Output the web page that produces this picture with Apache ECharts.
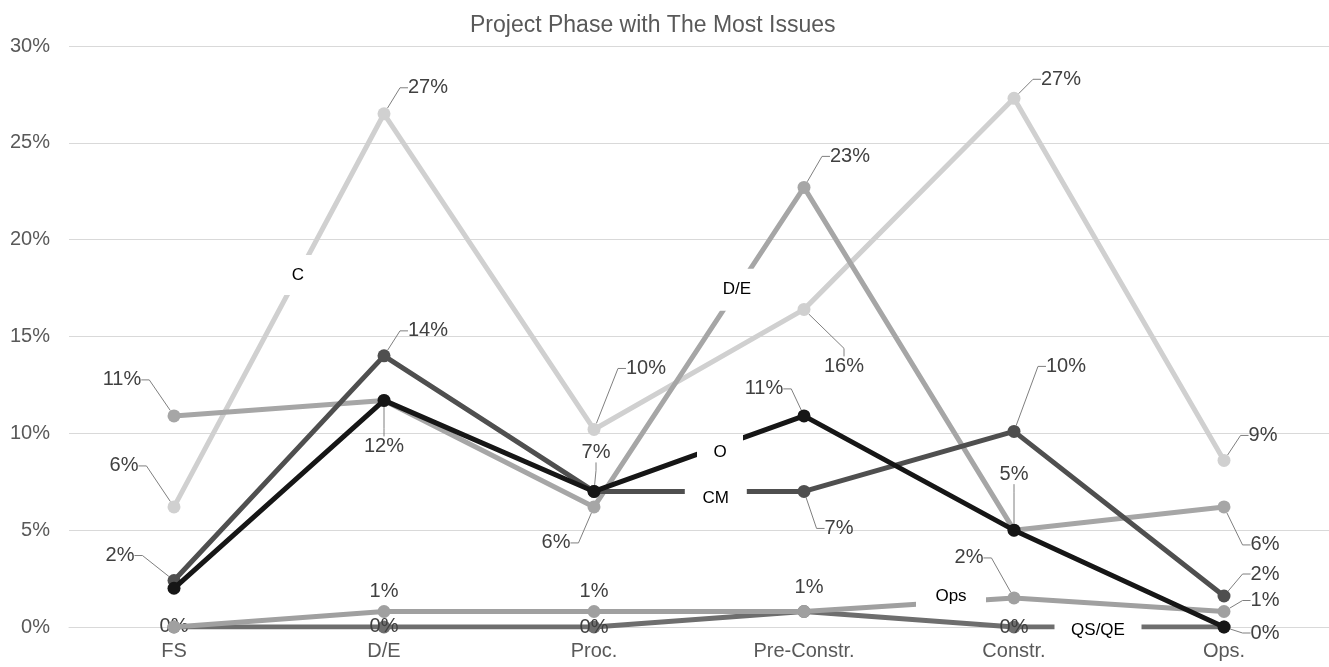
<!DOCTYPE html>
<html>
<head>
<meta charset="utf-8">
<script src="https://cdn.jsdelivr.net/npm/echarts@6/dist/echarts.min.js"></script>
<style>
  html, body { margin: 0; padding: 0; background: #fff; }
  #chart { width: 1329px; height: 667px; }
</style>
</head>
<body>
<div id="chart"></div>
<script>
// Project phases (x categories)
const phases = ['FS', 'D/E', 'Proc.', 'Pre-Constr.', 'Constr.', 'Ops.'];

// Percent axis
const yMin = 0;
const yMax = 30;
const yStep = 5;

// Share of issues per phase (%), one array per discipline
const valuesC    = [6.2, 26.5, 10.2, 16.4, 27.3, 8.6];
const valuesDE   = [10.9, 11.7, 6.2, 22.7, 5.0, 6.2];
const valuesQSQE = [0, 0, 0, 0.8, 0, 0];
const valuesOps  = [0, 0.8, 0.8, 0.8, 1.5, 0.8];
const valuesCM   = [2.4, 14.0, 7.0, 7.0, 10.1, 1.6];
const valuesO    = [2.0, 11.7, 7.0, 10.9, 5.0, 0];

const FONT = '"Liberation Sans", Arial, Helvetica, sans-serif';

// Value-label placement: [dx, dy, leaderLine] per point, null = no label
const labelPlacement = {
  'C':     [[-50, -41, 1], [44, -26, 1], [52, -61, 1], [40, 57, 1], [47, -19, 1], [39, -25, 1]],
  'D/E':   [[-52, -36, 1], [0, 46, 1], [-38, 36, 1], [46, -31, 1], null, [41, 38, 1]],
  'QS/QE': [[0, -1, 0], [0, -1, 0], [0, 0, 0], null, [0, 0, 0], null],
  'Ops':   [null, [0, -20, 0], [0, -20, 0], [5, -24, 0], [-45, -40, 1], [41, -11, 1]],
  'CM':    [[-54, -25, 1], [44, -25, 1], null, [35, 37, 1], [52, -65, 1], [41, -22, 1]],
  'O':     [null, null, [2, -39, 1], [-40, -27, 1], [0, -56, 1], [41, 6, 1]]
};

// Inline series-name tags: segment index, position along segment, box size, text shift
const nameTags = {
  'C':     { seg: 0, t: 0.59, w: 30, h: 40, dy: 0 },
  'D/E':   { seg: 2, t: 0.68, w: 40, h: 42, dy: 0 },
  'O':     { seg: 2, t: 0.60, w: 46, h: 24, dy: 6 },
  'CM':    { seg: 2, t: 0.58, w: 62, h: 22, dy: 7 },
  'Ops':   { seg: 3, t: 0.70, w: 70, h: 22, dy: -6 },
  'QS/QE': { seg: 4, t: 0.40, w: 87, h: 22, dy: 3 }
};

const seriesDefs = [
  { name: 'C',     values: valuesC,    color: '#d0d0d0' },
  { name: 'D/E',   values: valuesDE,   color: '#a6a6a6' },
  { name: 'QS/QE', values: valuesQSQE, color: '#6e6e6e' },
  { name: 'Ops',   values: valuesOps,  color: '#a0a0a0' },
  { name: 'CM',    values: valuesCM,   color: '#4f4f4f' },
  { name: 'O',     values: valuesO,    color: '#161616' }
];

function pctLabel(p) {
  return Math.round(p.value) + '%';
}

function buildLine(def, idx) {
  const place = labelPlacement[def.name];
  return {
    type: 'line',
    name: def.name,
    xAxisIndex: 0,
    yAxisIndex: 0,
    z: 2 + idx * 0.1,
    data: def.values.map(function (v, i) {
      const L = place[i];
      return {
        value: v,
        label: { show: !!L },
        labelLine: { show: !!(L && L[2]) }
      };
    }),
    symbol: 'circle',
    symbolSize: 13,
    showSymbol: true,
    lineStyle: { color: def.color, width: 5 },
    itemStyle: { color: def.color, opacity: 1 },
    label: {
      position: 'inside',
      formatter: pctLabel,
      fontSize: 20,
      fontFamily: FONT,
      color: '#404040',
      textBorderWidth: 0
    },
    labelLine: {
      show: true,
      length2: 8,
      lineStyle: { color: '#7f7f7f', width: 1 }
    },
    labelLayout: function (p) {
      const L = place[p.dataIndex];
      return L ? { dx: L[0], dy: L[1] } : {};
    },
    emphasis: { disabled: true },
    silent: true
  };
}

// Name tag sits on the series line, located from the series' own values
function buildTags() {
  return {
    type: 'scatter',
    xAxisIndex: 1,
    yAxisIndex: 0,
    z: 10,
    silent: true,
    symbol: 'rect',
    data: seriesDefs.map(function (def) {
      const tg = nameTags[def.name];
      const a = def.values[tg.seg];
      const b = def.values[tg.seg + 1];
      return {
        value: [tg.seg + tg.t, a + (b - a) * tg.t],
        name: def.name,
        symbolSize: [tg.w, tg.h],
        label: { offset: [0, tg.dy] }
      };
    }),
    itemStyle: { color: '#ffffff', opacity: 1 },
    label: {
      show: true,
      position: 'inside',
      formatter: function (p) { return p.name; },
      fontSize: 17,
      fontFamily: FONT,
      color: '#000000',
      opacity: 1,
      textBorderWidth: 0
    },
    emphasis: { disabled: true }
  };
}

const chart = echarts.init(document.getElementById('chart'), null, { renderer: 'canvas' });

chart.setOption({
  animation: false,
  backgroundColor: '#ffffff',
  title: {
    text: 'Project Phase with The Most Issues',
    left: 465,
    top: 9,
    textStyle: { fontSize: 23, fontWeight: 'normal', color: '#595959', fontFamily: FONT }
  },
  grid: { left: 69, right: -2, top: 46, bottom: 40, containLabel: false },
  xAxis: [
    {
      type: 'category',
      data: phases,
      boundaryGap: true,
      axisLine: { show: true, lineStyle: { color: '#d9d9d9', width: 1 } },
      axisTick: { show: false },
      axisLabel: { fontSize: 20, fontFamily: FONT, color: '#595959', margin: 14 },
      splitLine: { show: false }
    },
    {
      // helper axis aligned with category centres, used for tag placement
      type: 'value',
      min: -0.5,
      max: phases.length - 0.5,
      show: false,
      splitLine: { show: false }
    }
  ],
  yAxis: {
    type: 'value',
    min: yMin,
    max: yMax,
    interval: yStep,
    axisLine: { show: false },
    axisTick: { show: false },
    axisLabel: {
      formatter: '{value}%',
      fontSize: 20,
      fontFamily: FONT,
      color: '#595959',
      margin: 19
    },
    splitLine: { lineStyle: { color: '#d9d9d9', width: 1.2 } }
  },
  series: seriesDefs.map(buildLine).concat([buildTags()])
});
</script>
</body>
</html>
